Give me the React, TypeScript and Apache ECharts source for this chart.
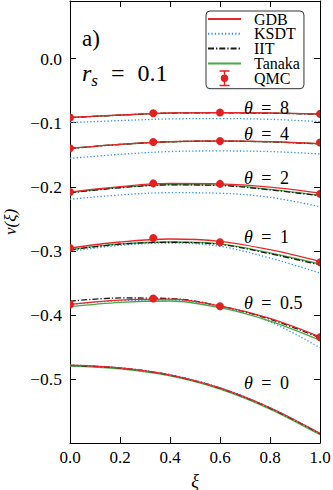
import React, { useEffect, useRef } from 'react';
import * as echarts from 'echarts';

const FONT = 'Liberation Serif';

// ξ grid of the model curves
const xi = [0, 0.2, 0.4, 0.6, 0.8, 1.0];
// θ values (one row per θ in the model arrays below)
const thetaLabels = ['8', '4', '2', '1', '0.5', '0'];

const gdb = [
  [-0.0918, -0.0880, -0.0848, -0.0842, -0.0848, -0.0864],
  [-0.1400, -0.1337, -0.1295, -0.1285, -0.1295, -0.1326],
  [-0.2081, -0.1997, -0.1948, -0.1955, -0.2006, -0.2100],
  [-0.2956, -0.2862, -0.2815, -0.2851, -0.2982, -0.3164],
  [-0.3837, -0.3770, -0.3755, -0.3860, -0.4056, -0.4344],
  [-0.4784, -0.4826, -0.4935, -0.5140, -0.5450, -0.5850],
];
const ksdt = [
  [-0.0998, -0.0967, -0.0941, -0.0936, -0.0947, -0.0983],
  [-0.1556, -0.1494, -0.1450, -0.1441, -0.1450, -0.1488],
  [-0.2195, -0.2128, -0.2092, -0.2101, -0.2164, -0.2310],
  [-0.3008, -0.2914, -0.2878, -0.2930, -0.3113, -0.3347],
  [-0.3837, -0.3778, -0.3770, -0.3872, -0.4107, -0.4513],
  [-0.4782, -0.4824, -0.4933, -0.5138, -0.5449, -0.5850],
];
const iit = [
  [-0.0920, -0.0882, -0.0850, -0.0844, -0.0851, -0.0867],
  [-0.1403, -0.1340, -0.1298, -0.1288, -0.1299, -0.1331],
  [-0.2095, -0.2015, -0.1970, -0.1980, -0.2048, -0.2142],
  [-0.2985, -0.2897, -0.2866, -0.2900, -0.3045, -0.3220],
  [-0.3787, -0.3736, -0.3744, -0.3860, -0.4067, -0.4359],
  [-0.4788, -0.4830, -0.4940, -0.5145, -0.5455, -0.5855],
];
const tanaka = [
  [-0.0920, -0.0881, -0.0849, -0.0843, -0.0850, -0.0866],
  [-0.1402, -0.1339, -0.1297, -0.1287, -0.1298, -0.1330],
  [-0.2090, -0.2010, -0.1965, -0.1972, -0.2040, -0.2133],
  [-0.2982, -0.2893, -0.2862, -0.2893, -0.3034, -0.3206],
  [-0.3872, -0.3804, -0.3783, -0.3888, -0.4097, -0.4395],
  [-0.4800, -0.4842, -0.4952, -0.5158, -0.5470, -0.5872],
];

// QMC points (θ = 8, 4, 2, 1, 0.5)
const qmcXi = [0, 0.333, 0.6, 1.0];
const qmc = [
  [-0.0920, -0.0853, -0.0840, -0.0862],
  [-0.1400, -0.1300, -0.1285, -0.1310],
  [-0.2081, -0.1947, -0.1955, -0.2111],
  [-0.2956, -0.2800, -0.2867, -0.3180],
  [-0.3837, -0.3744, -0.3865, -0.4350],
];

const yTicks = [-0.5, -0.4, -0.3, -0.2, -0.1, 0.0];

const labelMids = [107.5, 134.3, 177.5, 237.2, 303.3, 382.5];

const ERRBAR_ICON =
  'path://M0,0H10V1.5H0Z M4.3,0H5.7V16H4.3Z M0,14.5H10V16H0Z M8.7,8A3.7,3.7 0 1 1 1.3,8A3.7,3.7 0 1 1 8.7,8Z';

export default function App() {
  const ref = useRef<HTMLDivElement>(null);

  useEffect(() => {
    const chart = echarts.init(ref.current!, null, { renderer: 'svg' });

    const models = [
      { name: 'KSDT', rows: ksdt, color: '#2f8ff0', type: [1.3, 2.1] as any, width: 1.3, z: 2 },
      { name: 'Tanaka', rows: tanaka, color: '#45aa45', type: 'solid' as any, width: 1.3, z: 3 },
      { name: 'IIT', rows: iit, color: '#1a1a1a', type: [6, 2, 1.3, 2] as any, width: 1.3, z: 4 },
      { name: 'GDB', rows: gdb, color: '#e8282c', type: 'solid' as any, width: 1.3, z: 5 },
    ];

    const series: any[] = [];
    models.forEach((m) => {
      m.rows.forEach((row) => {
        series.push({
          type: 'line',
          name: m.name,
          data: xi.map((x, i) => [x, row[i]]),
          smooth: 0.35,
          symbol: 'none',
          clip: true,
          silent: true,
          z: m.z,
          itemStyle: { color: m.color },
          lineStyle: { color: m.color, width: m.width, type: m.type },
        });
      });
    });

    series.push({
      type: 'custom',
      name: 'QMC',
      clip: true,
      z: 10,
      silent: true,
      itemStyle: { color: '#e41f1f' },
      encode: { x: 0, y: 1 },
      data: qmc.flatMap((row) => qmcXi.map((x, i) => [x, row[i]])),
      renderItem: (params: any, api: any) => {
        const c = api.coord([api.value(0), api.value(1)]);
        return {
          type: 'circle',
          shape: { cx: c[0], cy: c[1], r: 4 },
          style: { fill: '#e41f1f', stroke: 'none' },
        };
      },
    });

    const axisLine = { show: true, onZero: false, lineStyle: { color: '#000', width: 1 } };
    const axisTick = { show: true, inside: true, length: 6, lineStyle: { color: '#000', width: 1 } };
    const yFmt = (v: number) => {
      const hit = yTicks.some((t) => Math.abs(t - v) < 1e-6);
      if (!hit) return '';
      return (v < -1e-9 ? '\u2212' : '') + Math.abs(v).toFixed(1);
    };

    const graphics: any[] = [
      {
        type: 'text',
        x: 82,
        y: 38.5,
        style: { text: 'a)', fontSize: 23, fontFamily: FONT, fill: '#000', align: 'left', verticalAlign: 'middle' },
      },
      {
        type: 'text',
        x: 82,
        y: 73,
        style: {
          text: '{r|r}{s|s}{e| = }0.1',
          fontSize: 24,
          fontFamily: FONT,
          fill: '#000',
          align: 'left',
          verticalAlign: 'middle',
          rich: {
            r: { fontStyle: 'italic', fontSize: 24, fontFamily: FONT, lineHeight: 26 },
            s: { fontStyle: 'italic', fontSize: 17, fontFamily: FONT, verticalAlign: 'bottom', lineHeight: 32 },
            e: { fontSize: 24, fontFamily: FONT, padding: [0, 7, 0, 7] },
          },
        },
      },
    ];
    thetaLabels.forEach((t, i) => {
      graphics.push({
        type: 'text',
        x: 244,
        y: labelMids[i],
        z: 20,
        style: {
          text: '{t|θ}{e| = }' + t,
          fontSize: 18,
          fontFamily: FONT,
          fill: '#000',
          align: 'left',
          verticalAlign: 'middle',
          rich: {
            t: { fontStyle: 'italic', fontSize: 18, fontFamily: FONT },
            e: { fontSize: 18, fontFamily: FONT, padding: [0, 4, 0, 4] },
          },
        },
      });
    });

    const hidden = { opacity: 0 };
    const option: any = {
      animation: false,
      backgroundColor: '#fff',
      grid: { left: 70, right: 13, top: 1, bottom: 47, containLabel: false, outerBoundsMode: 'none' },
      legend: {
        data: [
          { name: 'GDB', itemStyle: hidden },
          { name: 'KSDT', itemStyle: hidden },
          { name: 'IIT', itemStyle: hidden },
          { name: 'Tanaka', itemStyle: hidden },
          { name: 'QMC', icon: ERRBAR_ICON },
        ],
        orient: 'vertical',
        left: 206,
        top: 11,
        itemWidth: 33,
        itemHeight: 16,
        itemGap: -1.2,
        padding: [0, 4, 2.5, 1],
        backgroundColor: '#fff',
        borderColor: '#333',
        borderWidth: 1,
        borderRadius: 4,
        selectedMode: false,
        z: 30,
        textStyle: { fontFamily: FONT, fontSize: 16, color: '#000', lineHeight: 14, padding: [0, 0, 0, 8] },
      },
      xAxis: [
        {
          type: 'value',
          min: 0,
          max: 1,
          interval: 0.2,
          position: 'bottom',
          axisLine,
          axisTick,
          splitLine: { show: false },
          axisLabel: {
            fontFamily: FONT,
            fontSize: 17,
            color: '#000',
            margin: 6,
            formatter: (v: number) => v.toFixed(1),
          },
          name: 'ξ',
          nameLocation: 'middle',
          nameGap: 29,
          nameTextStyle: { fontFamily: FONT, fontStyle: 'italic', fontSize: 18, color: '#000' },
        },
        {
          type: 'value',
          min: 0,
          max: 1,
          interval: 0.2,
          position: 'top',
          axisLine,
          axisTick,
          splitLine: { show: false },
          axisLabel: { show: false },
        },
      ],
      yAxis: [
        {
          type: 'value',
          min: -0.6,
          max: 0.09,
          interval: 0.1,
          position: 'left',
          axisLine,
          axisTick,
          splitLine: { show: false },
          axisLabel: {
            fontFamily: FONT,
            fontSize: 17.5,
            color: '#000',
            margin: 8,
            showMaxLabel: false,
            showMinLabel: false,
            formatter: yFmt,
          },
          name: 'v(ξ)',
          nameLocation: 'middle',
          nameGap: 48,
          nameRotate: 90,
          nameTextStyle: { fontFamily: FONT, fontStyle: 'italic', fontSize: 17, color: '#000' },
        },
        {
          type: 'value',
          min: -0.6,
          max: 0.09,
          interval: 0.1,
          position: 'right',
          axisLine,
          axisTick,
          splitLine: { show: false },
          axisLabel: { show: false },
        },
      ],
      graphic: graphics,
      series,
    };

    chart.setOption(option);
    return () => chart.dispose();
  }, []);

  return (
    <div
      ref={ref}
      style={{ position: 'fixed', left: 0, top: 0, width: 333, height: 490, background: '#fff' }}
    />
  );
}
